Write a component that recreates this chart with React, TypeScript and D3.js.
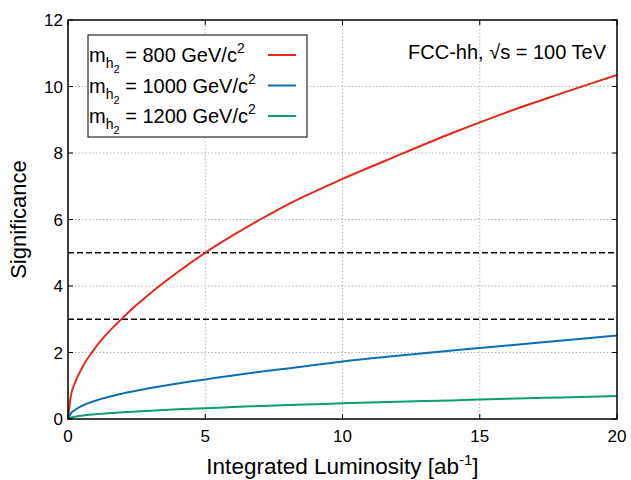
import React from 'react';
import * as d3 from 'd3';

// luminosity samples [ab^-1] and significance
const lumi = [0, 0.1, 0.25, 0.5, 1, 2, 3, 4, 5, 6, 7, 8, 10, 12, 14, 15, 16, 18, 20];
const sig800 = [0, 0.68, 1.08, 1.52, 2.15, 3.05, 3.78, 4.42, 5.0, 5.52, 6.0, 6.45, 7.22, 7.92, 8.6, 8.92, 9.23, 9.8, 10.35];
const sig1000 = [0, 0.17, 0.27, 0.39, 0.55, 0.77, 0.93, 1.07, 1.19, 1.31, 1.42, 1.52, 1.73, 1.9, 2.06, 2.135, 2.21, 2.36, 2.51];
const sig1200 = [0, 0.04, 0.07, 0.1, 0.14, 0.2, 0.25, 0.29, 0.32, 0.36, 0.39, 0.42, 0.47, 0.52, 0.56, 0.585, 0.61, 0.65, 0.69];

const masses = ['800', '1000', '1200'];
const seriesValues = [sig800, sig1000, sig1200];
const colors = ['#e8261b', '#0a6fb5', '#0a9e74'];

const xTicks = [0, 5, 10, 15, 20];
const yTicks = [0, 2, 4, 6, 8, 10, 12];
const thresholds = [5, 3];

const W = 631, H = 480;
const margin = { top: 20, right: 14, bottom: 61, left: 68 };
const font = 'Liberation Sans, Arial, sans-serif';

export default function App() {
  const x = d3.scaleLinear().domain([0, 20]).range([margin.left, W - margin.right]);
  const y = d3.scaleLinear().domain([0, 12]).range([H - margin.bottom, margin.top]);
  const [x0, x1] = x.range();
  const [y0, y1] = y.range();

  const line = d3.line<number>()
    .x((_, i) => x(lumi[i]))
    .y(d => y(d))
    .curve(d3.curveMonotoneX);

  return (
    <svg width={W} height={H} style={{ position: 'absolute', left: 0, top: 0, background: '#fff' }}
      fontFamily={font}>
      <defs>
        <clipPath id="plot">
          <rect x={x0} y={y1} width={x1 - x0} height={y0 - y1} />
        </clipPath>
      </defs>

      {/* grid */}
      {xTicks.slice(1, -1).map(t => (
        <line key={'gx' + t} x1={x(t)} x2={x(t)} y1={y0} y2={y1}
          stroke="#b5b5b5" strokeWidth={1} strokeDasharray="1.5,2" />
      ))}
      {yTicks.slice(1, -1).map(t => (
        <line key={'gy' + t} x1={x0} x2={x1} y1={y(t)} y2={y(t)}
          stroke="#b5b5b5" strokeWidth={1} strokeDasharray="1.5,2" />
      ))}

      {/* 5 and 3 sigma lines */}
      {thresholds.map(t => (
        <line key={'th' + t} x1={x0} x2={x1} y1={y(t)} y2={y(t)}
          stroke="#000" strokeWidth={1.3} strokeDasharray="6,3" />
      ))}

      <g clipPath="url(#plot)">
        {seriesValues.map((vals, i) => (
          <path key={masses[i]} d={line(vals) || ''} fill="none" stroke={colors[i]} strokeWidth={2} />
        ))}
      </g>

      {/* ticks, inward on all sides */}
      {xTicks.map(t => (
        <g key={'tx' + t}>
          <line x1={x(t)} x2={x(t)} y1={y0} y2={y0 - 5} stroke="#000" />
          <line x1={x(t)} x2={x(t)} y1={y1} y2={y1 + 5} stroke="#000" />
          <text x={x(t)} y={y0 + 23} textAnchor="middle" fontSize={17}>{t}</text>
        </g>
      ))}
      {yTicks.map(t => (
        <g key={'ty' + t}>
          <line x1={x0} x2={x0 + 5} y1={y(t)} y2={y(t)} stroke="#000" />
          <line x1={x1} x2={x1 - 5} y1={y(t)} y2={y(t)} stroke="#000" />
          <text x={x0 - 5} y={y(t) + 6} textAnchor="end" fontSize={17}>{t}</text>
        </g>
      ))}

      <rect x={x0} y={y1} width={x1 - x0} height={y0 - y1} fill="none" stroke="#000" strokeWidth={1.5} />

      {/* legend */}
      <rect x={88} y={35} width={219} height={102} fill="#fff" stroke="#000" strokeWidth={1} />
      {masses.map((m, i) => {
        const by = 62 + i * 30.5;
        return (
          <g key={'lg' + m}>
            <text x={89} y={by} fontSize={20}>
              m
              <tspan fontSize={14} dy={6}>h</tspan>
              <tspan fontSize={11} dy={5}>2</tspan>
              <tspan fontSize={20} dy={-11}>{` = ${m} GeV/c`}</tspan>
              <tspan fontSize={14} dy={-9}>2</tspan>
            </text>
            <line x1={268} x2={296} y1={by - 7} y2={by - 7} stroke={colors[i]} strokeWidth={2} />
          </g>
        );
      })}

      <text x={606} y={59} textAnchor="end" fontSize={20}>FCC-hh, √s = 100 TeV</text>

      {/* axis titles */}
      <text x={(x0 + x1) / 2} y={474} textAnchor="middle" fontSize={22.5}>
        Integrated Luminosity [ab<tspan fontSize={15} dy={-9}>-1</tspan><tspan dy={9}>]</tspan>
      </text>
      <text transform={`translate(26,${(y0 + y1) / 2}) rotate(-90)`} textAnchor="middle" fontSize={22}>
        Significance
      </text>
    </svg>
  );
}
